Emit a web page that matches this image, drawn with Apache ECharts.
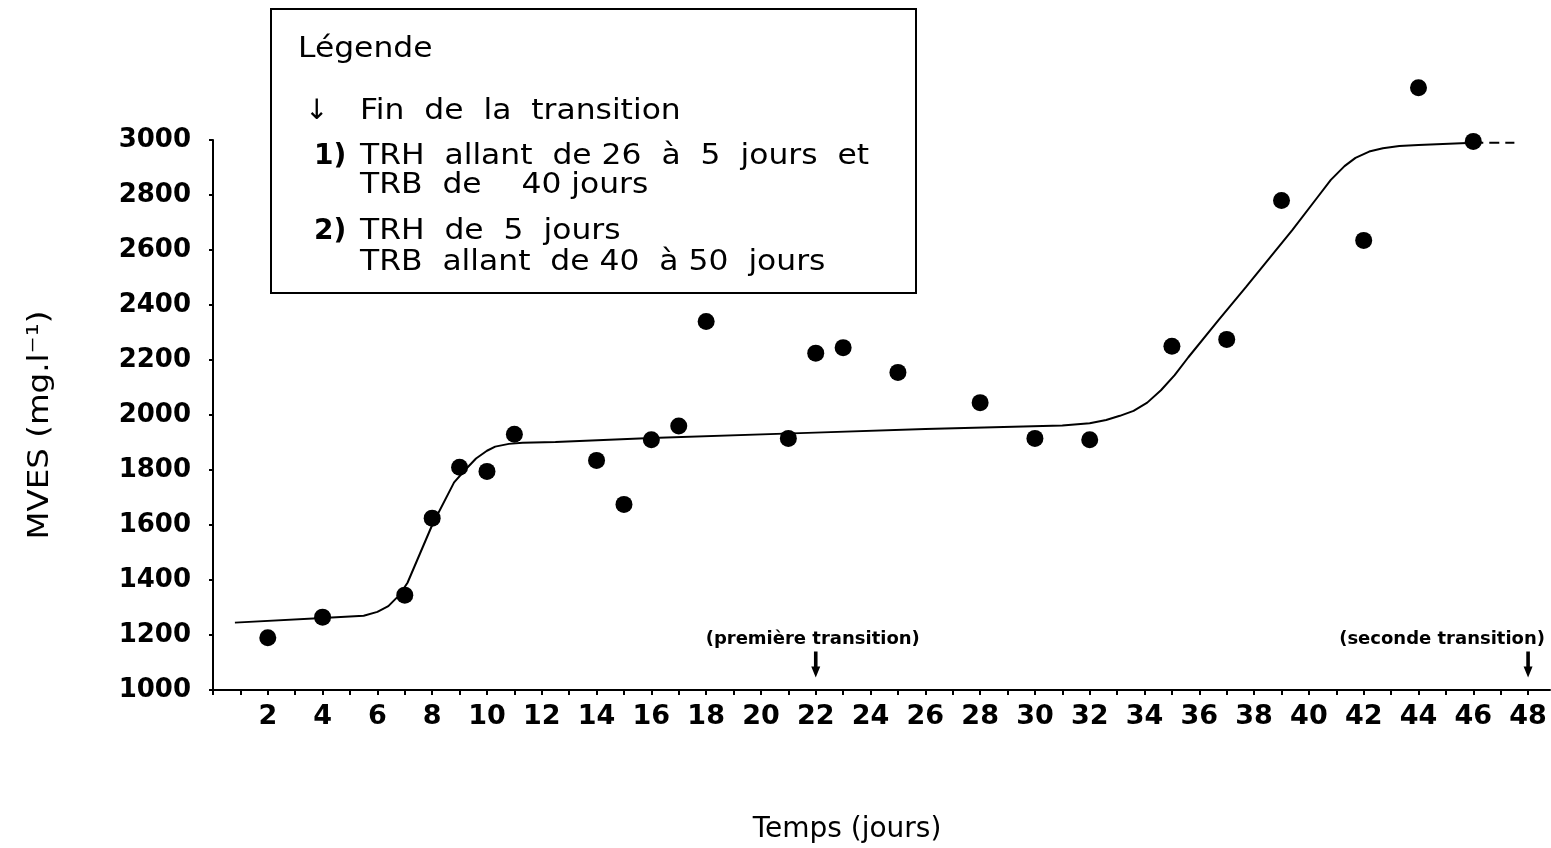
<!DOCTYPE html>
<html>
<head>
<meta charset="utf-8">
<title>MVES</title>
<script src="https://cdn.jsdelivr.net/npm/echarts@6/dist/echarts.min.js"></script>
<style>
	html, body { margin: 0; padding: 0; background: #fff; }
	#main { width: 1551px; height: 848px; }
</style>
</head>
<body>
<div id="main"></div>
<script>
// points mesures (jours, mg/l)
var days = [2, 4, 7, 8, 9, 10, 11, 14, 15, 16, 17, 18, 21, 22, 23, 25, 28, 30, 32, 35, 37, 39, 42, 44, 46];
var mves = [1190, 1265, 1345, 1625, 1810, 1795, 1930, 1835, 1675, 1910, 1960, 2340, 1915, 2225, 2245, 2155, 2045, 1915, 1910, 2250, 2275, 2780, 2635, 3190, 2995];

// courbe d'ajustement tracee a la main
var curveDays = [0.8, 4, 5.5, 6, 6.4, 6.8, 7.1, 8, 8.8, 9.2, 9.6, 10, 10.3, 10.8, 11.3, 12.5, 16, 21.7, 26, 31, 32, 32.6, 33.1, 33.6, 34.1, 34.6, 35.1, 35.6, 36.7, 37.7, 39.4, 40.3, 40.8, 41.3, 41.7, 42.2, 42.7, 43.3, 44, 46];
var curveMves = [1245, 1262, 1270, 1284, 1305, 1345, 1390, 1600, 1755, 1800, 1842, 1870, 1885, 1895, 1899, 1902, 1916, 1935, 1949, 1962, 1970, 1982, 1997, 2015, 2045, 2090, 2145, 2210, 2345, 2465, 2673, 2790, 2855, 2905, 2935, 2958, 2970, 2978, 2982, 2990];
// fin en pointille
var tailDays = [46, 47.5];
var tailMves = [2990, 2990];

// fin des transitions
var transDays = [22, 48];
var transNames = ['(première transition)', '(seconde transition)'];

var legendMarks = ['', '↓', '1)', '', '2)', ''];
var legendLines = [
	'Légende',
	'Fin  de  la  transition',
	'TRH  allant  de 26  à  5  jours  et',
	'TRB  de    40 jours',
	'TRH  de  5  jours',
	'TRB  allant  de 40  à 50  jours'
];
var legendY = [50, 112, 157, 186, 232, 263];

var fontFam = '"DejaVu Sans", sans-serif';

var myChart = echarts.init(document.getElementById('main'));

function pairs(xs, ys){
	var out = [];
	for (var i = 0; i < xs.length; i++){
		out.push([xs[i], ys[i]]);
	}
	return out;
}

var trans = [];
for (var k = 0; k < transDays.length; k++){
	trans.push({
		name: transNames[k],
		value: [transDays[k], 1093],
		label: { offset: k === 1 ? [-86, 0] : [-3, 0] }
	});
}

var graphics = [{
	type: 'rect',
	shape: { x: 271, y: 9, width: 645, height: 284 },
	style: { fill: 'none', stroke: '#000', lineWidth: 2 }
}, {
	type: 'text',
	x: 40, y: 425,
	rotation: Math.PI / 2,
	scaleX: 1.12,
	style: {
		text: 'MVES (mg.l⁻¹)',
		fontSize: 29, fontFamily: fontFam, fill: '#000',
		align: 'center', verticalAlign: 'middle'
	}
}, {
	type: 'text',
	x: 847, y: 830,
	style: {
		text: 'Temps (jours)',
		fontSize: 28, fontFamily: fontFam, fill: '#000',
		align: 'center', verticalAlign: 'middle'
	}
}];
for (var m = 0; m < legendLines.length; m++){
	graphics.push({
		type: 'text',
		x: m === 0 ? 298 : 360,
		y: legendY[m],
		scaleX: 1.12,
		style: {
			text: legendLines[m],
			fontSize: 28, fontFamily: fontFam, fill: '#000',
			align: 'left', verticalAlign: 'middle'
		}
	});
	if (legendMarks[m]){
		graphics.push({
			type: 'text',
			x: m === 1 ? 305 : 314,
			y: legendY[m],
			style: {
				text: legendMarks[m],
				fontSize: 28, fontFamily: fontFam, fill: '#000',
				fontWeight: m === 1 ? 'normal' : 'bold',
				align: 'left', verticalAlign: 'middle'
			}
		});
	}
}

var option = {
	animation: false,
	backgroundColor: '#fff',
	grid: { left: 213, right: 1, top: 140, bottom: 158 },
	xAxis: {
		type: 'value',
		min: 0,
		max: 48.8,
		interval: 1,
		axisLine: { show: true, lineStyle: { color: '#000', width: 2 } },
		axisTick: { show: true, length: 5, lineStyle: { color: '#000', width: 2 } },
		axisLabel: {
			color: '#000', fontSize: 27, fontWeight: 'bold', fontFamily: fontFam, margin: 13,
			showMaxLabel: false,
			formatter: function(v){
				return (v > 0 && v % 2 === 0) ? String(v) : '';
			}
		},
		splitLine: { show: false }
	},
	yAxis: {
		type: 'value',
		min: 1000,
		max: 3000,
		interval: 200,
		axisLine: { show: true, lineStyle: { color: '#000', width: 2 } },
		axisTick: { show: true, length: 4, lineStyle: { color: '#000', width: 2 } },
		axisLabel: {
			color: '#000', fontSize: 26, fontWeight: 'bold', fontFamily: fontFam, margin: 22,
			formatter: function(v){ return String(v); }
		},
		splitLine: { show: false }
	},
	graphic: graphics,
	series: [{
		name: 'courbe',
		type: 'line',
		data: pairs(curveDays, curveMves),
		showSymbol: false,
		smooth: false,
		lineStyle: { color: '#000', width: 2 },
		z: 2
	}, {
		name: 'queue',
		type: 'line',
		data: pairs(tailDays, tailMves),
		showSymbol: false,
		lineStyle: { color: '#000', width: 2, type: [10, 6] },
		z: 2
	}, {
		name: 'MVES',
		type: 'scatter',
		data: pairs(days, mves),
		symbolSize: 17,
		clip: false,
		itemStyle: { color: '#000', opacity: 1 },
		z: 3
	}, {
		name: 'transitions',
		type: 'scatter',
		data: trans,
		symbol: 'path://M3,0 L7,0 L7,15 L10,15 L5,26 L0,15 L3,15 Z',
		symbolSize: [9, 26],
		itemStyle: { color: '#000', opacity: 1 },
		label: {
			show: true,
			position: 'top',
			distance: 3,
			formatter: '{b}',
			color: '#000',
			fontSize: 18,
			fontWeight: 'bold',
			fontFamily: fontFam
		},
		z: 4
	}]
};

myChart.setOption(option);
</script>
</body>
</html>
